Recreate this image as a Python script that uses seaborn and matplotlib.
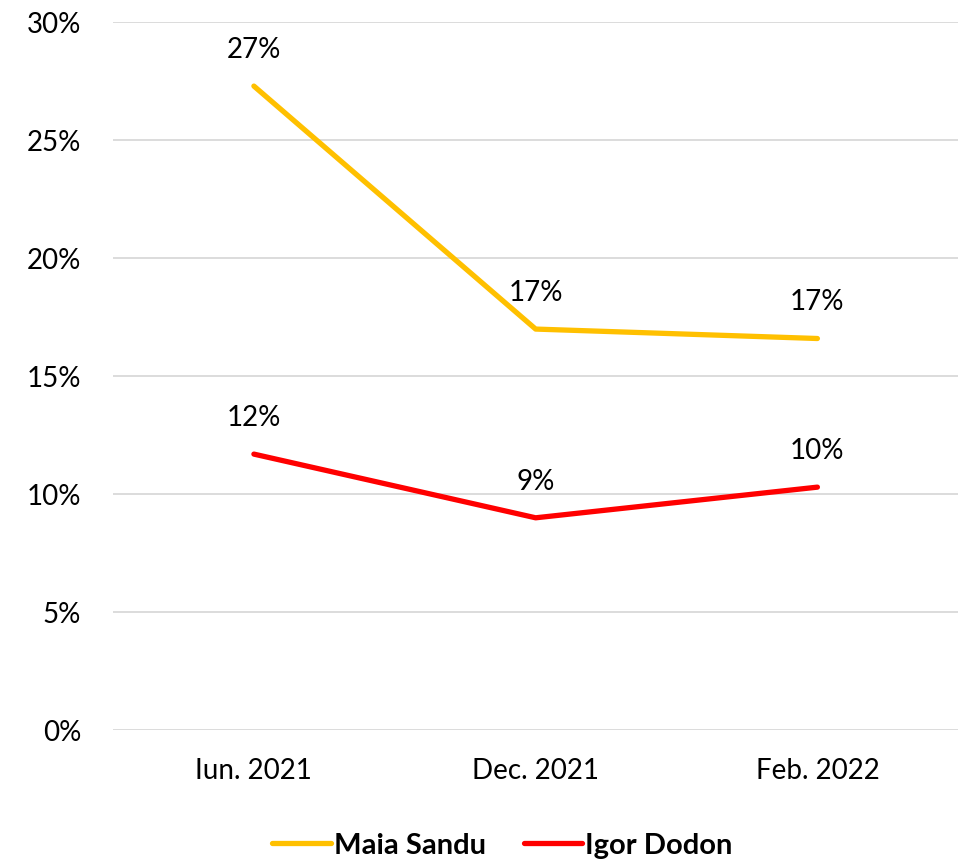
import pandas as pd
import matplotlib.pyplot as plt
import seaborn as sns
from matplotlib.ticker import PercentFormatter

# Data
periods = ['Iun. 2021', 'Dec. 2021', 'Feb. 2022']
maia_sandu = [27.3, 17.0, 16.6]
igor_dodon = [11.7, 9.0, 10.3]
series_names = ['Maia Sandu', 'Igor Dodon']
colors = ['#FFC000', '#FF0000']

sns.set_theme(style='white')
plt.rcParams['font.family'] = ['Lato', 'DejaVu Sans']

df = pd.DataFrame({'period': periods * 2,
                   'value': maia_sandu + igor_dodon,
                   'candidate': [series_names[0]] * 3 + [series_names[1]] * 3})

fig = plt.figure(figsize=(9.66, 8.61), dpi=100)
ax = fig.add_axes([0.117, 0.152, 0.875, 0.822])

sns.lineplot(data=df, x='period', y='value', hue='candidate', palette=colors,
             linewidth=3.8, sort=False, ax=ax, legend=False)

# Data labels above each point
for vals in (maia_sandu, igor_dodon):
    for i, v in enumerate(vals):
        ax.annotate(f'{round(v):.0f}%', (i, v), xytext=(0, 26), textcoords='offset points',
                    ha='center', va='center', fontsize=20, color='black')

ax.set_ylim(0, 30)
ax.set_xlim(-0.5, 2.5)
ax.set_yticks(range(0, 31, 5))
ax.yaxis.set_major_formatter(PercentFormatter(decimals=0))
ax.grid(axis='y', color='#D9D9D9', linewidth=1.3)
ax.grid(axis='x', visible=False)
for s in ax.spines.values():
    s.set_visible(False)
ax.tick_params(axis='both', labelsize=20, length=0, colors='black')
ax.tick_params(axis='x', pad=20)
ax.tick_params(axis='y', pad=23)
ax.set_xlabel('')
ax.set_ylabel('')

handles = [plt.Line2D([], [], color=c, linewidth=3.8) for c in colors]
leg = fig.legend(handles, series_names, loc='center', bbox_to_anchor=(0.52, 0.018),
                 ncol=2, frameon=False, handlelength=2.0, handletextpad=0.1,
                 columnspacing=1.3, prop={'weight': 'bold', 'size': 21})
for t in leg.get_texts():
    t.set_color('black')

fig.savefig('out.png', dpi=100)
